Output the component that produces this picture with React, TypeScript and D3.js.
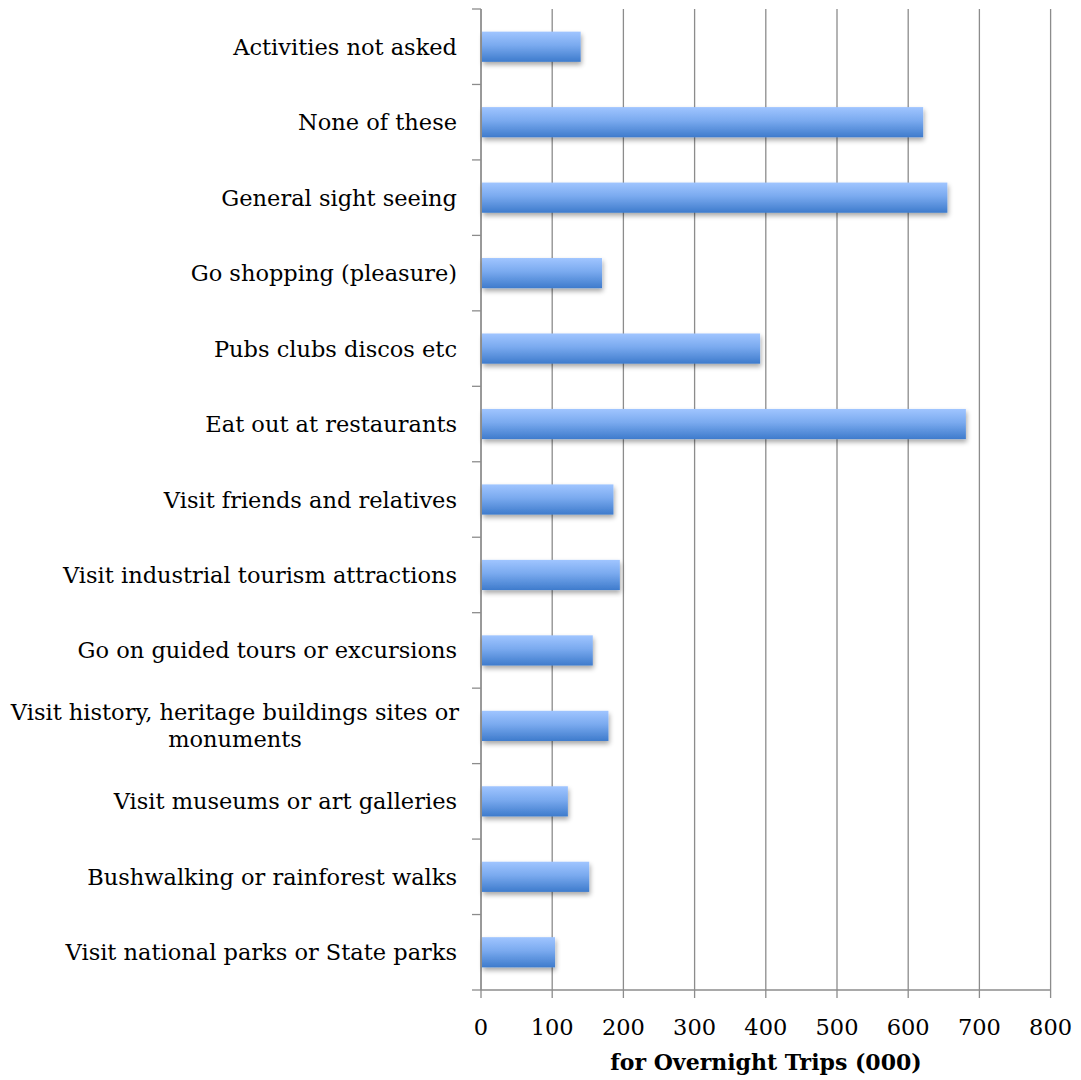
import React from "react";
import * as d3 from "d3";

const categories = [
  "Activities not asked",
  "None of these",
  "General sight seeing",
  "Go shopping (pleasure)",
  "Pubs clubs discos etc",
  "Eat out at restaurants",
  "Visit friends and relatives",
  "Visit industrial tourism attractions",
  "Go on guided tours or excursions",
  "Visit history, heritage buildings sites or monuments",
  "Visit museums or art galleries",
  "Bushwalking or rainforest walks",
  "Visit national parks or State parks",
];
const values = [140, 621, 655, 170, 392, 681, 186, 195, 157, 179, 122, 152, 104];
const xTicks = [0, 100, 200, 300, 400, 500, 600, 700, 800];
const xTitle = "for Overnight Trips (000)";

const labelLines: Record<string, string[]> = {
  "Visit history, heritage buildings sites or monuments": [
    "Visit history, heritage buildings sites or",
    "monuments",
  ],
};

export default function App() {
  const W = 1081, H = 1080;
  const left = 481, right = 1050.6, top = 9, bottom = 990;
  const x = d3.scaleLinear().domain([0, 800]).range([left, right]);
  const y = d3.scaleBand().domain(categories).range([top, bottom]).paddingInner(0.6).paddingOuter(0.3);
  const band = (bottom - top) / categories.length;
  const font = "'DejaVu Serif', serif";
  const fs = 22.5;
  return (
    <svg width={W} height={H} style={{ position: "absolute", left: 0, top: 0 }}>
      <defs>
        <linearGradient id="barGrad" x1="0" y1="0" x2="0" y2="1">
          <stop offset="0%" stopColor="#a0c5ff" />
          <stop offset="45%" stopColor="#7aaaef" />
          <stop offset="100%" stopColor="#3e7bcc" />
        </linearGradient>
        <filter id="shadow" x="-10%" y="-30%" width="120%" height="190%">
          <feGaussianBlur in="SourceAlpha" stdDeviation="2.5" />
          <feOffset dx="1" dy="3" result="b" />
          <feComponentTransfer><feFuncA type="linear" slope="0.35" /></feComponentTransfer>
          <feMerge><feMergeNode /><feMergeNode in="SourceGraphic" /></feMerge>
        </filter>
      </defs>
      <rect width={W} height={H} fill="#fff" />
      {xTicks.map((t) => (
        <line key={"g" + t} x1={x(t)} x2={x(t)} y1={top} y2={bottom + 8} stroke="#8c8c8c" strokeWidth={1.3} />
      ))}
      {categories.map((c, i) => (
        <line key={"yt" + i} x1={left - 9} x2={left} y1={top + band * i} y2={top + band * i} stroke="#8c8c8c" strokeWidth={1.3} />
      ))}
      <line x1={left - 9} x2={left} y1={bottom} y2={bottom} stroke="#8c8c8c" strokeWidth={1.3} />
      <line x1={left} x2={right} y1={bottom} y2={bottom} stroke="#8c8c8c" strokeWidth={1.3} />
      <line x1={left} x2={left} y1={top} y2={bottom} stroke="#8c8c8c" strokeWidth={1.3} />
      {categories.map((c, i) => (
        <rect key={"b" + i} x={x(0) + 1} y={y(c)!} width={x(values[i]) - x(0) - 1} height={y.bandwidth()} fill="url(#barGrad)" filter="url(#shadow)" />
      ))}
      {categories.map((c) => {
        const lines = labelLines[c] || [c];
        const cy = y(c)! + y.bandwidth() / 2;
        const lh = 27;
        return (
          <text key={"l" + c} x={457} y={cy - ((lines.length - 1) * lh) / 2} textAnchor="end" fontFamily={font} fontSize={fs} fill="#000" dominantBaseline="central">
            {lines.map((ln, j) => (
              <tspan key={j} x={lines.length > 1 ? 235 : 457} textAnchor={lines.length > 1 ? "middle" : "end"} dy={j === 0 ? 0 : lh}>{ln}</tspan>
            ))}
          </text>
        );
      })}
      {xTicks.map((t) => (
        <text key={"xt" + t} x={x(t)} y={1027} textAnchor="middle" dominantBaseline="central" fontFamily={font} fontSize={fs} fill="#000">{t}</text>
      ))}
      <text x={766} y={1062} textAnchor="middle" dominantBaseline="central" fontFamily={font} fontSize={22} fontWeight="bold" fill="#000">{xTitle}</text>
    </svg>
  );
}
